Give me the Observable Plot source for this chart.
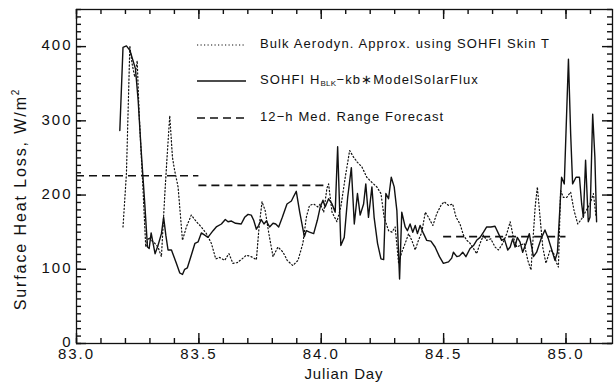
<!DOCTYPE html>
<html>
<head>
<meta charset="utf-8">
<script src="https://cdn.jsdelivr.net/npm/d3@7"></script>
<script src="https://cdn.jsdelivr.net/npm/@observablehq/plot@0.6"></script>
<style>
  html, body { margin: 0; padding: 0; background: #fff; }
  #chart svg { font-family: "Liberation Sans", Arial, sans-serif; }
  #chart svg g[aria-label$="tick label"] text { letter-spacing: 2px; font-size: 15px; }
</style>
</head>
<body>
<div id="chart"></div>
<script>
// SOHFI H_BLK − kb*ModelSolarFlux (solid)
const sohfiDay = [
  83.177, 83.190, 83.204, 83.218, 83.231, 83.241, 83.252, 83.265, 83.279, 83.290,
  83.297, 83.305, 83.313, 83.321, 83.333, 83.347, 83.356, 83.365, 83.374, 83.388,
  83.408, 83.422, 83.433, 83.442, 83.453, 83.469, 83.484, 83.497, 83.510, 83.524,
  83.537, 83.558, 83.571, 83.592, 83.608, 83.619, 83.633, 83.650, 83.673, 83.687,
  83.701, 83.714, 83.724, 83.735, 83.744, 83.755, 83.766, 83.776, 83.789, 83.803,
  83.814, 83.826, 83.841, 83.860, 83.878, 83.887, 83.898, 83.912, 83.931, 83.939,
  83.952, 83.969, 83.984, 83.996, 84.007, 84.016, 84.030, 84.044, 84.057, 84.067,
  84.080, 84.094, 84.108, 84.123, 84.135, 84.148, 84.159, 84.173, 84.182, 84.193,
  84.207, 84.216, 84.230, 84.244, 84.255, 84.264, 84.275, 84.286, 84.298, 84.309,
  84.320, 84.329, 84.343, 84.352, 84.363, 84.374, 84.384, 84.393, 84.404, 84.418,
  84.431, 84.448, 84.465, 84.483, 84.499, 84.520, 84.533, 84.540, 84.554, 84.565,
  84.578, 84.591, 84.608, 84.622, 84.635, 84.649, 84.663, 84.676, 84.693, 84.710,
  84.727, 84.737, 84.748, 84.762, 84.772, 84.782, 84.792, 84.801, 84.812, 84.823,
  84.837, 84.850, 84.867, 84.880, 84.898, 84.914, 84.928, 84.942, 84.955, 84.965,
  84.976, 84.982, 84.993, 85.010, 85.019, 85.027, 85.041, 85.055, 85.064, 85.071,
  85.080, 85.091, 85.098, 85.101, 85.109, 85.118, 85.125
];
const sohfiFlux = [
  287, 399, 401, 395, 381, 370, 327, 256, 188, 130,
  128, 149, 135, 121, 132, 148, 170, 146, 126, 126,
  108, 95, 93, 100, 102, 119, 135, 137, 149, 146,
  143, 152, 157, 161, 167, 164, 165, 162, 161, 170,
  174, 173, 166, 154, 159, 167, 161, 165, 157, 162,
  161, 157, 170, 188, 192, 198, 205, 177, 144, 152,
  150, 148, 166, 184, 193, 184, 195, 188, 177, 265,
  132, 143, 197, 237, 161, 202, 173, 188, 215, 170,
  211, 170, 135, 114, 113, 202, 195, 224, 211, 179,
  87, 177, 157, 152, 161, 150, 159, 148, 159, 148,
  139, 138, 130, 117, 108, 110, 115, 123, 117, 118,
  123, 117, 128, 132, 139, 143, 150, 157, 157, 158,
  146, 139, 141, 126, 130, 141, 130, 143, 137, 123,
  135, 148, 117, 123, 141, 153, 141, 126, 112, 123,
  188, 224, 215, 383, 283, 215, 224, 224, 188, 170,
  247, 164, 170, 206, 309, 251, 164
];

// Bulk aerodynamic approximation using SOHFI skin T (dotted)
const bulkDay = [
  83.190, 83.204, 83.218, 83.227, 83.238, 83.248, 83.256, 83.272, 83.283, 83.295,
  83.306, 83.320, 83.333, 83.347, 83.361, 83.370, 83.381, 83.392, 83.401, 83.415,
  83.433, 83.449, 83.469, 83.490, 83.510, 83.531, 83.551, 83.569, 83.585, 83.605,
  83.623, 83.639, 83.657, 83.673, 83.694, 83.714, 83.735, 83.746, 83.758, 83.771,
  83.786, 83.803, 83.823, 83.844, 83.861, 83.884, 83.905, 83.925, 83.939, 83.952,
  83.969, 83.986, 83.996, 84.010, 84.023, 84.030, 84.044, 84.064, 84.080, 84.098,
  84.116, 84.132, 84.148, 84.166, 84.186, 84.207, 84.227, 84.244, 84.257, 84.275,
  84.289, 84.302, 84.316, 84.329, 84.343, 84.357, 84.370, 84.384, 84.397, 84.411,
  84.425, 84.438, 84.456, 84.472, 84.489, 84.502, 84.520, 84.537, 84.551, 84.567,
  84.581, 84.595, 84.608, 84.622, 84.635, 84.649, 84.663, 84.676, 84.693, 84.710,
  84.724, 84.742, 84.758, 84.772, 84.785, 84.799, 84.812, 84.829, 84.844, 84.857,
  84.874, 84.883, 84.894, 84.905, 84.918, 84.935, 84.948, 84.962, 84.969, 84.978,
  84.989, 85.003, 85.019, 85.033, 85.048, 85.064, 85.082, 85.098, 85.112, 85.123
];
const bulkFlux = [
  157, 229, 401, 377, 359, 381, 309, 206, 130, 143,
  139, 135, 130, 117, 202, 251, 307, 251, 233, 211,
  139, 157, 173, 164, 157, 148, 135, 114, 116, 112,
  121, 108, 109, 113, 119, 117, 113, 157, 191, 179,
  148, 117, 130, 123, 112, 105, 112, 135, 170, 186,
  188, 184, 188, 177, 209, 215, 177, 164, 184, 224,
  260, 251, 244, 238, 224, 217, 211, 202, 170, 152,
  150, 157, 108, 123, 135, 148, 139, 126, 139, 150,
  177, 170, 159, 175, 186, 191, 186, 188, 170, 161,
  146, 139, 135, 128, 121, 135, 146, 139, 141, 130,
  126, 135, 148, 164, 143, 130, 132, 135, 112, 99,
  184, 211, 170, 130, 108, 126, 123, 108, 103, 206,
  197, 197, 204, 179, 161, 168, 179, 188, 202, 170
];

// 12-h medium range forecast (dashed segments)
const forecastStart = [83.0, 83.5, 84.5];
const forecastEnd   = [83.5, 84.03, 85.0];
const forecastFlux  = [226, 213, 144];

// Axis ticks
const xMajor = [83.0, 83.5, 84.0, 84.5, 85.0];
const xMinor = d3.range(83.0, 85.15, 0.1).map(v => +v.toFixed(1));
const yMajor = [0, 100, 200, 300, 400];
const yMinor = d3.range(0, 451, 10);

const sohfi = sohfiDay.map((d, i) => ({day: d, flux: sohfiFlux[i]}));
const bulk = bulkDay.map((d, i) => ({day: d, flux: bulkFlux[i]}));
const forecast = forecastStart.map((d, i) => ({x1: d, x2: forecastEnd[i], flux: forecastFlux[i]}));

const ink = "#111";
const W = 614, H = 392, mL = 76, mR = 2, mT = 9, mB = 49;
const xDomain = [83, 85.19], yDomain = [0, 450];

// tick lengths (px) expressed in data units of the opposite axis
const pxPerY = (H - mT - mB) / (yDomain[1] - yDomain[0]);
const pxPerX = (W - mL - mR) / (xDomain[1] - xDomain[0]);
const xTickMajor = 10 / pxPerY, xTickMinor = 5 / pxPerY;
const yTickMajor = 10 / pxPerX, yTickMinor = 5 / pxPerX;

const edgeTicksX = (vals, len) => [
  Plot.ruleX(vals, {x: d => d, y1: yDomain[0], y2: yDomain[0] + len, stroke: ink, strokeWidth: 1.4}),
  Plot.ruleX(vals, {x: d => d, y1: yDomain[1], y2: yDomain[1] - len, stroke: ink, strokeWidth: 1.4})
];
const edgeTicksY = (vals, len) => [
  Plot.ruleY(vals, {y: d => d, x1: xDomain[0], x2: xDomain[0] + len, stroke: ink, strokeWidth: 1.4}),
  Plot.ruleY(vals, {y: d => d, x1: xDomain[1], x2: xDomain[1] - len, stroke: ink, strokeWidth: 1.4})
];

const chart = Plot.plot({
  width: W,
  height: H,
  marginLeft: mL,
  marginRight: mR,
  marginTop: mT,
  marginBottom: mB,
  x: {domain: xDomain},
  y: {domain: yDomain},
  style: {fontSize: "15px", color: ink, background: "#fff"},
  marks: [
    Plot.axisX({ticks: xMajor, tickSize: 0, tickPadding: 5, tickFormat: d3.format(".1f"), label: null, ariaLabel: "x-axis tick label"}),
    Plot.axisY({ticks: yMajor, tickSize: 0, tickPadding: 4, dy: -1, tickFormat: d3.format("d"), label: null, ariaLabel: "y-axis tick label"}),
    ...edgeTicksX(xMinor, xTickMinor),
    ...edgeTicksX(xMajor, xTickMajor),
    ...edgeTicksY(yMinor, yTickMinor),
    ...edgeTicksY(yMajor, yTickMajor),
    Plot.frame({stroke: ink, strokeWidth: 1.3}),
    Plot.ruleY(forecast, {y: "flux", x1: "x1", x2: "x2", stroke: ink, strokeWidth: 1.6, strokeDasharray: "8,5"}),
    Plot.line(bulk, {x: "day", y: "flux", stroke: ink, strokeWidth: 1.2, strokeDasharray: "1.2,2.3"}),
    Plot.line(sohfi, {x: "day", y: "flux", stroke: ink, strokeWidth: 1.4})
  ]
});

document.getElementById("chart").appendChild(chart);

const svg = d3.select(chart);

// Axis titles
svg.append("text")
  .attr("x", 344).attr("y", 375)
  .attr("text-anchor", "middle").attr("dominant-baseline", "middle")
  .attr("fill", ink).style("font-size", "15px").style("letter-spacing", "0.9px")
  .text("Julian Day");

const ylab = svg.append("text")
  .attr("transform", "translate(22,199) rotate(-90)")
  .attr("text-anchor", "middle").attr("dominant-baseline", "middle")
  .attr("fill", ink).style("font-size", "16px").style("letter-spacing", "1.9px");
ylab.append("tspan").text("Surface Heat Loss, W/m");
ylab.append("tspan").attr("dy", -6).style("font-size", "10px").text("2");

// Legend
const legendRows = [
  {y: 45, dash: "1.2,2.3", width: 1.2},
  {y: 81, dash: null, width: 1.4},
  {y: 118, dash: "8,5", width: 1.6}
];
const lg = svg.append("g").attr("text-anchor", "start");
legendRows.forEach(r => {
  lg.append("line")
    .attr("x1", 197).attr("x2", 246).attr("y1", r.y).attr("y2", r.y)
    .attr("stroke", ink).attr("stroke-width", r.width)
    .attr("stroke-dasharray", r.dash);
});
const legendText = (y) => lg.append("text")
  .attr("x", 260).attr("y", y).attr("dominant-baseline", "middle")
  .attr("text-anchor", "start")
  .attr("fill", ink).style("font-size", "13px").style("letter-spacing", "1.1px");

legendText(45).text("Bulk Aerodyn. Approx. using SOHFI Skin T");
const t2 = legendText(81);
t2.append("tspan").text("SOHFI H");
t2.append("tspan").attr("dy", 3).style("font-size", "8px").style("letter-spacing", "0.3px").text("BLK");
t2.append("tspan").attr("dy", -3).text("\u2212kb\u2217ModelSolarFlux");
legendText(118).text("12\u2212h Med. Range Forecast");
</script>
</body>
</html>
